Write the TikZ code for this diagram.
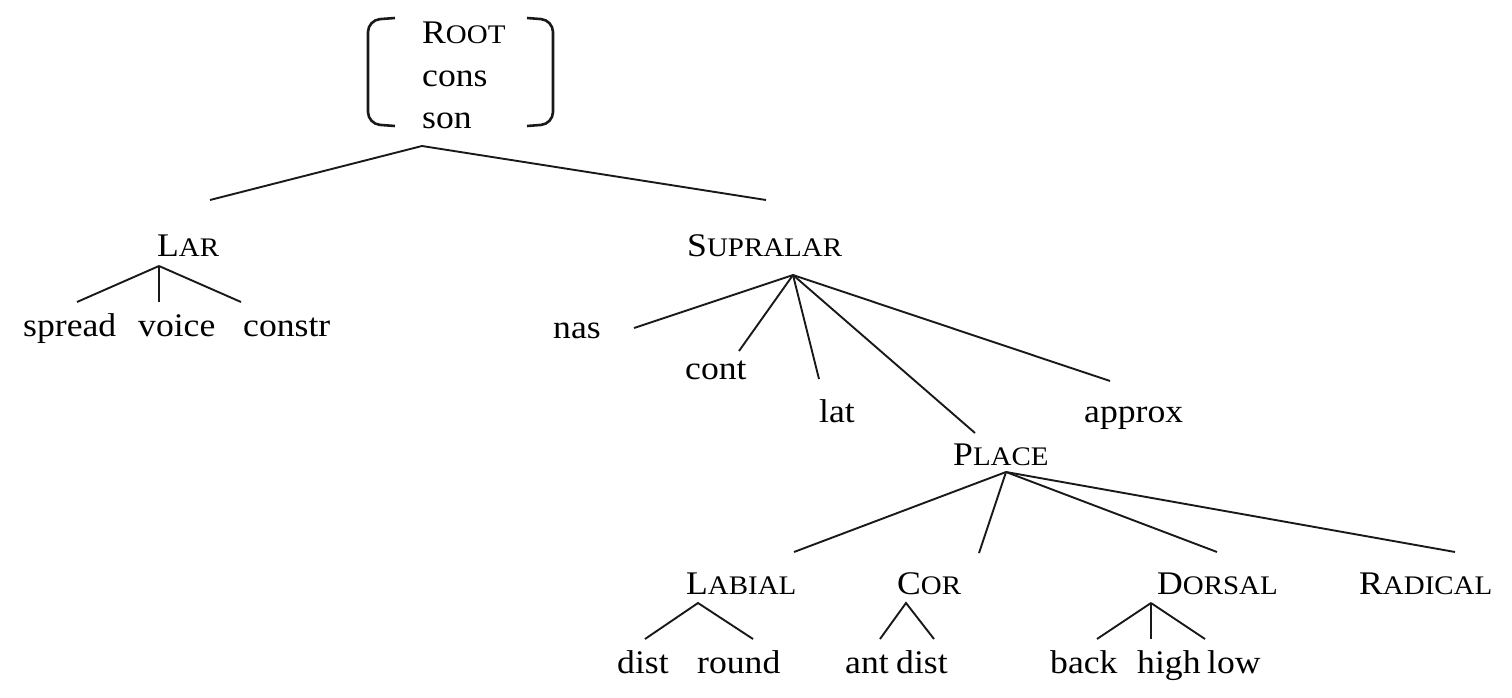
\documentclass[tikz,border=0pt]{standalone}
\usepackage{fontspec}
\setmainfont{Liberation Serif}[FakeStretch=1.08]
\usepackage{tikz}

\begin{document}
\begin{tikzpicture}[
    x=1pt,
    y=-1pt,
    feat/.style={
      inner sep=0,
      anchor=base west,
      font=\fontsize{33}{42.5}\selectfont,
    },
    branch/.style={
      line width=1.9pt,
      color=black!90,
    },
    bracket/.style={
      line width=2.6pt,
      rounded corners=12pt,
      color=black!90,
    },
  ]
    \newcommand\fsc[2]{#1{\fontsize{26.8}{30}\selectfont #2}}
    \useasboundingbox (0,0) rectangle (1512,698);

    % root with its bracket
    \node[feat,anchor=north west,align=left] (root) at (422,22)
      {\fsc{R}{OOT}\\cons\\son};
    \draw[bracket] (395,18) -- (368,20) -- (368,124) -- (395,126);
    \draw[bracket] (527,18) -- (553,20) -- (553,124) -- (527,126);
    \coordinate (root-c) at (422,146);

    % laryngeal
    \node[feat] (lar) at (157,256) {\fsc{L}{AR}};
    \coordinate (lar-in) at (210,200);
    \coordinate (lar-c) at (159,266);
    \node[feat] (spread) at (23,336) {spread};
    \node[feat] (voice) at (138,336) {voice};
    \node[feat] (constr) at (243,336) {constr};
    \coordinate (spread-c) at (77,302);
    \coordinate (voice-c) at (159,302);
    \coordinate (constr-c) at (241,302);

    % supralaryngeal
    \node[feat] (supra) at (687,256) {\fsc{S}{UPRALAR}};
    \coordinate (supra-in) at (766,200);
    \coordinate (supra-c) at (793,275);
    \node[feat] (nas) at (553,338) {nas};
    \node[feat] (cont) at (685,379) {cont};
    \node[feat] (lat) at (819,422) {lat};
    \node[feat] (approx) at (1084,422) {approx};
    \coordinate (nas-c) at (634,328);
    \coordinate (cont-c) at (739,351);
    \coordinate (lat-c) at (819,379);
    \coordinate (approx-c) at (1110,381);

    % place
    \node[feat] (place) at (953,465) {\fsc{P}{LACE}};
    \coordinate (place-in) at (975,433);
    \coordinate (place-c) at (1006,472);
    \node[feat] (labial) at (686,594) {\fsc{L}{ABIAL}};
    \node[feat] (cor) at (897,594) {\fsc{C}{OR}};
    \node[feat] (dorsal) at (1157,594) {\fsc{D}{ORSAL}};
    \node[feat] (radical) at (1359,594) {\fsc{R}{ADICAL}};
    \coordinate (labial-in) at (794,552);
    \coordinate (cor-in) at (979,553);
    \coordinate (dorsal-in) at (1217,552);
    \coordinate (radical-in) at (1455,552);

    % terminal features
    \node[feat] (dist1) at (617,673) {dist};
    \node[feat] (round) at (697,673) {round};
    \node[feat] (ant) at (845,673) {ant};
    \node[feat] (dist2) at (896,673) {dist};
    \node[feat] (back) at (1050,673) {back};
    \node[feat] (high) at (1137,673) {high};
    \node[feat] (low) at (1207,673) {low};
    \coordinate (labial-c) at (698,603);
    \coordinate (cor-c) at (906,603);
    \coordinate (dorsal-c) at (1151,603);
    \coordinate (dist1-c) at (645,639);
    \coordinate (round-c) at (753,639);
    \coordinate (ant-c) at (880,639);
    \coordinate (dist2-c) at (934,639);
    \coordinate (back-c) at (1097,639);
    \coordinate (high-c) at (1151,639);
    \coordinate (low-c) at (1205,639);

    % branches
    \draw[branch] (lar-in) -- (root-c) -- (supra-in);
    \foreach \d in {spread,voice,constr}
      \draw[branch] (lar-c) -- (\d-c);
    \foreach \d in {nas,cont,lat,approx}
      \draw[branch] (supra-c) -- (\d-c);
    \draw[branch] (supra-c) -- (place-in);
    \foreach \d in {labial,cor,dorsal,radical}
      \draw[branch] (place-c) -- (\d-in);
    \draw[branch] (dist1-c) -- (labial-c) -- (round-c);
    \draw[branch] (ant-c) -- (cor-c) -- (dist2-c);
    \foreach \d in {back,high,low}
      \draw[branch] (dorsal-c) -- (\d-c);
  \end{tikzpicture}
\end{document}
